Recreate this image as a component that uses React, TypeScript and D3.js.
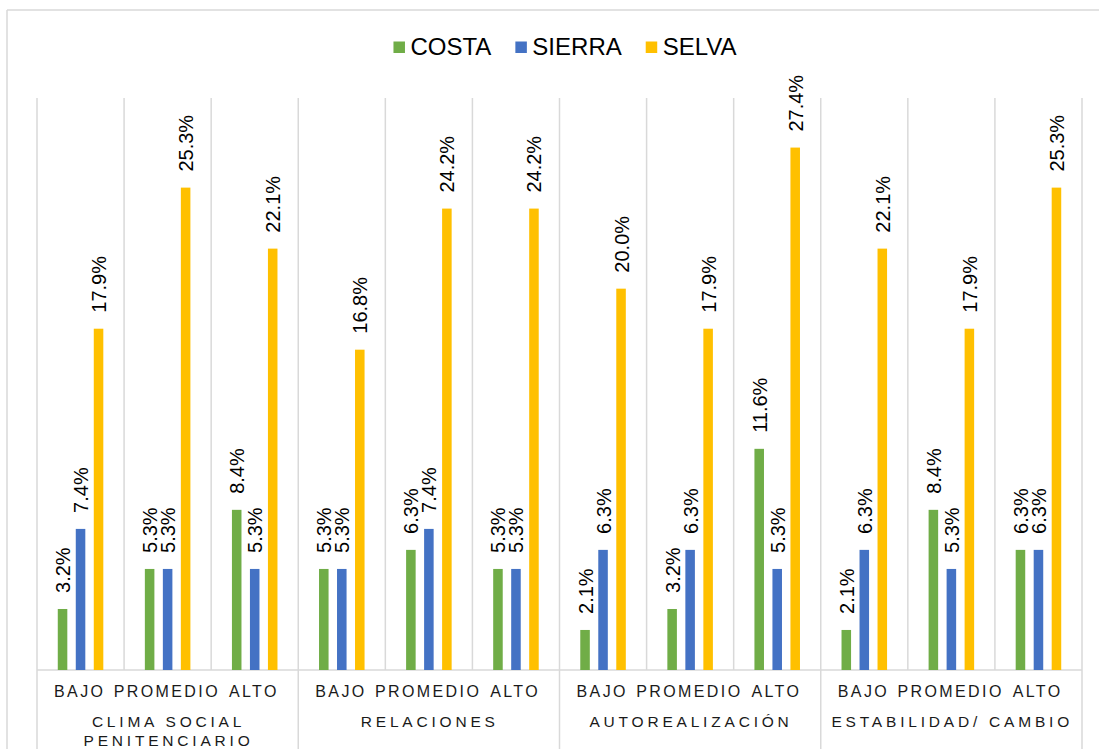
import React from "react";
import * as d3 from "d3";

const series = ["COSTA", "SIERRA", "SELVA"];
const colors = ["#70AD47", "#4472C4", "#FFC000"];
const levels = ["BAJO", "PROMEDIO", "ALTO"];
const groups = [
  ["CLIMA SOCIAL", "PENITENCIARIO"],
  ["RELACIONES"],
  ["AUTOREALIZACIÓN"],
  ["ESTABILIDAD/ CAMBIO"],
];
const costa = [3.2, 5.3, 8.4, 5.3, 6.3, 5.3, 2.1, 3.2, 11.6, 2.1, 8.4, 6.3];
const sierra = [7.4, 5.3, 5.3, 5.3, 7.4, 5.3, 6.3, 6.3, 5.3, 6.3, 5.3, 6.3];
const selva = [17.9, 25.3, 22.1, 16.8, 24.2, 24.2, 20.0, 17.9, 27.4, 22.1, 17.9, 25.3];
const values = [costa, sierra, selva];

const W = 1099;
const H = 755;
const FONT = "'Liberation Sans', Arial, sans-serif";

function textWidth(txt: string, size: number): number {
  if (typeof document === "undefined") return txt.length * size * 0.6;
  const c = document.createElement("canvas");
  const ctx = c.getContext("2d");
  if (!ctx) return txt.length * size * 0.6;
  ctx.font = `${size}px ${FONT}`;
  return ctx.measureText(txt).width;
}

export default function App() {
  const left = 37;
  const right = 1082;
  const top = 98;
  const base = 670;
  const axisBottom = 749;

  const slots = d3.range(groups.length * levels.length);
  const x = d3.scaleBand<number>().domain(slots).range([left, right]).padding(0);
  const y = d3.scaleLinear().domain([0, 30]).range([base, top]);
  const sw = x.bandwidth();

  const inner = d3
    .scaleBand<number>()
    .domain([0, 1, 2])
    .range([-27, 27])
    .paddingInner(0.47)
    .paddingOuter(0.235);

  const grid = "#D9D9D9";

  // legend layout
  const legFont = 24;
  const sq = 11.5;
  const gapSqText = 5.5;
  const itemGap = 24;
  const widths = series.map((s) => sq + gapSqText + textWidth(s, legFont));
  const totalLeg = d3.sum(widths) + itemGap * (series.length - 1);
  const legCenter = 565;
  let cursor = legCenter - totalLeg / 2;
  const legItems = series.map((s, i) => {
    const item = { s, i, x: cursor };
    cursor += widths[i] + itemGap;
    return item;
  });

  const catLS = 2.4;
  const grpLS = 3.8;

  return (
    <svg
      width={W}
      height={H}
      style={{ position: "absolute", left: 0, top: 0, background: "#fff" }}
      fontFamily={FONT}
    >
      <rect x={0} y={0} width={W} height={H} fill="#fff" />
      {/* outer chart border */}
      <line x1={7} x2={W + 5} y1={10} y2={10} stroke={grid} strokeWidth={1.5} />
      <line x1={7} x2={7} y1={10} y2={axisBottom} stroke={grid} strokeWidth={1.5} />

      {/* legend */}
      {legItems.map((it) => (
        <g key={it.s}>
          <rect x={it.x} y={41.5} width={sq} height={sq} fill={colors[it.i]} />
          <text
            x={it.x + sq + gapSqText}
            y={54.5}
            fontSize={legFont}
            fill="#000"
          >
            {it.s}
          </text>
        </g>
      ))}

      {/* vertical gridlines */}
      {d3.range(slots.length + 1).map((k) => {
        const xx = k < slots.length ? (x(k) as number) : right;
        const isGroup = k % levels.length === 0;
        return (
          <line
            key={"g" + k}
            x1={xx}
            x2={xx}
            y1={top}
            y2={isGroup ? axisBottom : base}
            stroke={grid}
            strokeWidth={1.5}
          />
        );
      })}
      {/* baseline */}
      <line x1={left} x2={right} y1={base} y2={base} stroke={grid} strokeWidth={1.5} />

      {/* bars */}
      {values.map((vals, si) =>
        vals.map((v, k) => {
          const cx = (x(k) as number) + sw / 2;
          const bx = cx + (inner(si) as number);
          return (
            <rect
              key={`b${si}-${k}`}
              x={bx}
              y={y(v)}
              width={inner.bandwidth()}
              height={base - y(v)}
              fill={colors[si]}
            />
          );
        })
      )}

      {/* data labels */}
      {values.map((vals, si) =>
        vals.map((v, k) => {
          const cx = (x(k) as number) + sw / 2;
          const lx = cx + (inner(si) as number) + inner.bandwidth() / 2 + 0.5;
          const ly = y(v) - 16;
          return (
            <text
              key={`l${si}-${k}`}
              transform={`translate(${lx},${ly}) rotate(-90)`}
              dy="0.35em"
              fontSize={20}
              fill="#000"
              textAnchor="start"
            >
              {v.toFixed(1) + "%"}
            </text>
          );
        })
      )}

      {/* category labels */}
      {slots.map((k) => (
        <text
          key={"c" + k}
          x={(x(k) as number) + sw / 2}
          dx={catLS / 2 - 2}
          y={697}
          fontSize={16}
          letterSpacing={catLS}
          textAnchor="middle"
          fill="#1a1a1a"
        >
          {levels[k % levels.length]}
        </text>
      ))}

      {/* group labels */}
      {groups.map((lines, gi) => {
        const gx0 = x(gi * levels.length) as number;
        const gcx = gx0 + (sw * levels.length) / 2;
        return lines.map((ln, li) => (
          <text
            key={`gl${gi}-${li}`}
            x={gcx}
            dx={grpLS / 2 - 1}
            y={727 + li * 19}
            fontSize={15.5}
            letterSpacing={grpLS}
            textAnchor="middle"
            fill="#1a1a1a"
            style={{ whiteSpace: "pre" }}
          >
            {ln}
          </text>
        ));
      })}
    </svg>
  );
}
